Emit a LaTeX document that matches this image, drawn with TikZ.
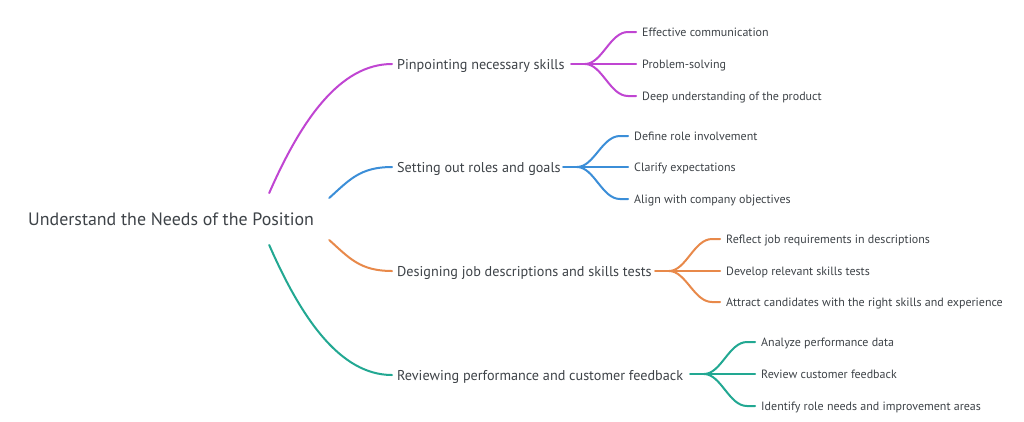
\documentclass[tikz,border=0pt]{standalone}
\usepackage{fontspec}
\setmainfont{PT Sans}
\usetikzlibrary{calc}
\definecolor{cmag}{HTML}{C045D2}
\definecolor{cblu}{HTML}{3B8ED8}
\definecolor{cora}{HTML}{E8894A}
\definecolor{ctea}{HTML}{22A892}
\definecolor{ctxt}{HTML}{3E4348}
\begin{document}
\begin{tikzpicture}[x=1pt,y=-1pt,
  rootbox/.style={anchor=west, inner sep=0pt, text=ctxt, font=\fontsize{17.9}{21}\selectfont, text height=13pt, text depth=0pt},
  lvone/.style={anchor=west, inner sep=0pt, text=ctxt, font=\fontsize{14.2}{17}\selectfont, text height=10pt, text depth=0pt},
  lvtwo/.style={anchor=west, inner sep=0pt, text=ctxt, font=\fontsize{12}{14}\selectfont, text height=8.3pt, text depth=0pt},
  link/.style={line width=2pt, line cap=round}]
\useasboundingbox[fill=white] (0,0) rectangle (1024,421);

\node[rootbox] (root) at (28,219) {Understand the Needs of the Position};

\node[lvone] (p1) at (397,64)  {Pinpointing necessary skills};
\node[lvone] (p2) at (397,167) {Setting out roles and goals};
\node[lvone] (p3) at (397,271) {Designing job descriptions and skills tests};
\node[lvone] (p4) at (397,375) {Reviewing performance and customer feedback};

\node[lvtwo] (c11) at (642,32)  {Effective communication};
\node[lvtwo] (c12) at (642,64)  {Problem-solving};
\node[lvtwo] (c13) at (642,96)  {Deep understanding of the product};
\node[lvtwo] (c21) at (634,136) {Define role involvement};
\node[lvtwo] (c22) at (634,167) {Clarify expectations};
\node[lvtwo] (c23) at (634,199) {Align with company objectives};
\node[lvtwo] (c31) at (726,239) {Reflect job requirements in descriptions};
\node[lvtwo] (c32) at (726,271) {Develop relevant skills tests};
\node[lvtwo] (c33) at (726,302) {Attract candidates with the right skills and experience};
\node[lvtwo] (c41) at (761,342) {Analyze performance data};
\node[lvtwo] (c42) at (761,374) {Review customer feedback};
\node[lvtwo] (c43) at (761,406) {Identify role needs and improvement areas};

% root connectors
\draw[link, cmag] ($(root.east)+(-45,-26)$) .. controls +(32,-73) and +(-52,0) .. ($(p1.west)+(-5,0)$);
\draw[link, cblu] ($(root.east)+(15,-21)$) .. controls +(20,-18) and +(-32,0) .. ($(p2.west)+(-5,0)$);
\draw[link, cora] ($(root.east)+(15,21)$) .. controls +(20,18) and +(-32,0) .. ($(p3.west)+(-5,0)$);
\draw[link, ctea] ($(root.east)+(-45,26)$) .. controls +(32,73) and +(-52,0) .. ($(p4.west)+(-5,0)$);

% child connectors
\foreach \p/\a/\b/\c/\col in {p1/c11/c12/c13/cmag, p2/c21/c22/c23/cblu, p3/c31/c32/c33/cora, p4/c41/c42/c43/ctea}{
  \draw[link, \col] ($(\b.west)+(-71,0)$) -- ($(\b.west)+(-6,0)$);
  \draw[link, \col] ($(\b.west)+(-57,0)$) .. controls +(17,0) and +(-18,0) .. ($(\a.west)+(-14,0)$) -- ($(\a.west)+(-6,0)$);
  \draw[link, \col] ($(\b.west)+(-57,0)$) .. controls +(17,0) and +(-18,0) .. ($(\c.west)+(-14,0)$) -- ($(\c.west)+(-6,0)$);
}
\end{tikzpicture}
\end{document}
